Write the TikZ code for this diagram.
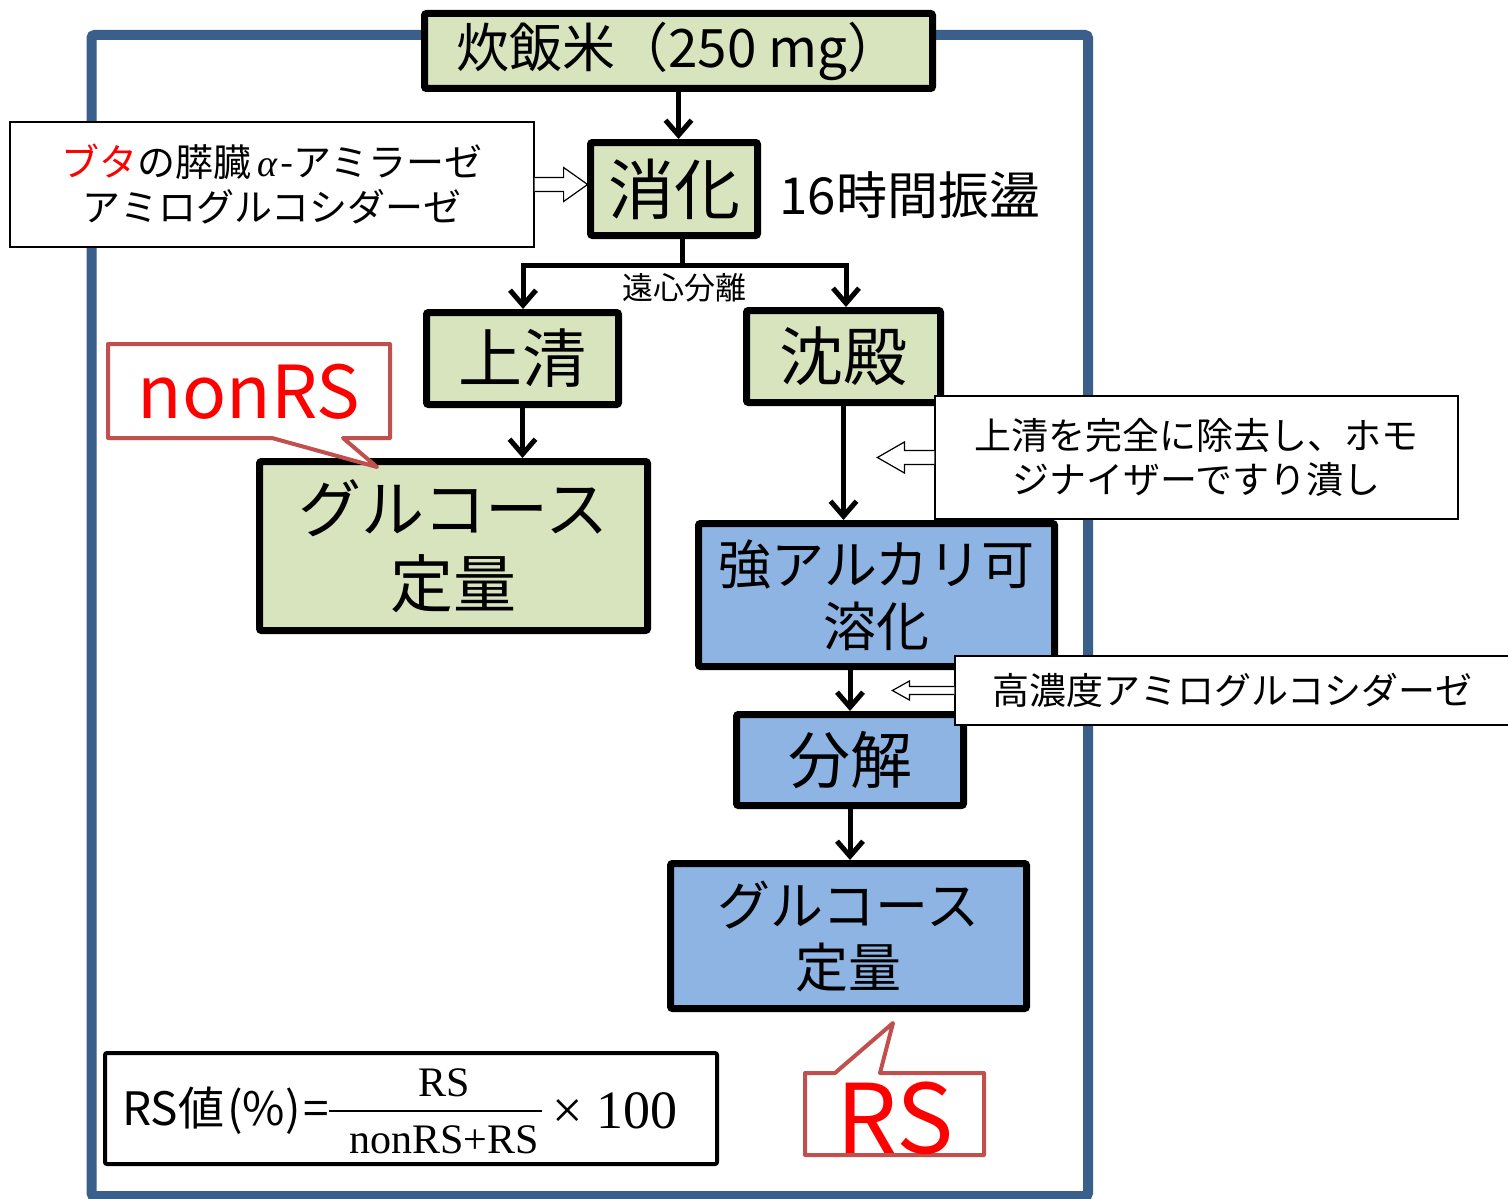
\documentclass[tikz,border=0pt]{standalone}
\usepackage{fontspec}
\setmainfont{Noto Sans CJK JP}
\newfontfamily\serifnum{Liberation Serif}
\usetikzlibrary{arrows.meta}
\definecolor{boxgreen}{HTML}{D7E4BD}
\definecolor{boxblue}{HTML}{8EB4E3}
\definecolor{framec}{HTML}{3A5F8B}
\definecolor{callc}{HTML}{C0504D}
\newcommand{\fs}[1]{\fontsize{#1}{#1}\selectfont}
\tikzset{
  flowbox/.style={draw=black, line width=7pt, rounded corners=2pt, inner sep=0pt, align=center},
  gbox/.style={flowbox, fill=boxgreen},
  bbox/.style={flowbox, fill=boxblue},
  notebox/.style={draw=black, line width=1.2pt, fill=white, inner sep=0pt, align=center},
  arr/.style={line width=5pt, -{Straight Barb[length=15pt,width=26pt]}},
  hollow/.style={draw=black, line width=1.2pt, fill=white},
  callout/.style={draw=callc, line width=4pt, fill=white, line join=round},
}
\begin{document}
\begin{tikzpicture}[x=1pt,y=1pt]
\useasboundingbox (0,0) rectangle (1508,-1199);
\fill[white] (0,0) rectangle (1508,-1199);
\draw[framec, line width=10pt, rounded corners=3pt] (91.5,-35) rectangle (1088,-1196);

% main flow boxes
\node[gbox, minimum width=508pt, minimum height=75pt, font=\fs{53}] (rice) at (678.5,-51) {炊飯米（250 mg）};
\node[gbox, minimum width=167pt, minimum height=93pt, font=\fs{66}] (dig) at (674,-189) {消化};
\node[anchor=west, font=\fs{51}] (hrs) at (776,-195) {16時間振盪};
\node[gbox, minimum width=192pt, minimum height=92pt, font=\fs{64}] (sup) at (522.5,-358.5) {上清};
\node[gbox, minimum width=194pt, minimum height=92pt, font=\fs{64}] (ppt) at (843.5,-356.5) {沈殿};
\node[gbox, minimum width=388pt, minimum height=169pt, font=\fontsize{63}{75}\selectfont] (glcL) at (453.5,-546) {グルコース\\定量};
\node[bbox, minimum width=356pt, minimum height=143pt, font=\fontsize{53}{62}\selectfont] (alk) at (876.5,-595) {強アルカリ可\\溶化};
\node[bbox, minimum width=227pt, minimum height=91pt, font=\fs{62}] (dec) at (850,-760) {分解};
\node[bbox, minimum width=356pt, minimum height=145pt, font=\fontsize{53}{62}\selectfont] (glcR) at (848.5,-936) {グルコース\\定量};

% notes
\node[notebox, minimum width=524pt, minimum height=125pt, font=\fontsize{38}{45}\selectfont] (nL) at (272,-184.5) {\textcolor{red}{ブタ}の膵臓\hspace{6pt}{\serifnum\itshape α}\hspace{3pt}-アミラーゼ\\アミログルコシダーゼ};
\node[notebox, minimum width=523pt, minimum height=123pt, font=\fontsize{37}{44}\selectfont] (n1) at (1196.5,-457.5) {上清を完全に除去し、ホモ\\ジナイザーですり潰し};
\node[notebox, minimum width=555pt, minimum height=69pt, font=\fs{37}] (n2) at (1232.5,-690.5) {高濃度アミログルコシダーゼ};

% connectors
\draw[arr] (rice.south) -- (rice.south |- dig.north);
\coordinate (jn) at (682,-265);
\coordinate (jl) at (523,-265);
\coordinate (jr) at (846,-265);
\draw[line width=5pt] (dig.south -| jn) -- (jn);
\draw[arr] (jn) -| (jl |- sup.north);
\draw[arr] (jn) -| (jr |- ppt.north);
\node[font=\fs{31}] (cent) at (684,-288) {遠心分離};
\draw[arr] (sup.south) -- (sup.south |- glcL.north);
\draw[arr] (ppt.south) -- (ppt.south |- alk.north);
\draw[arr] (dec.north |- alk.south) -- (dec.north);
\draw[arr] (dec.south) -- (dec.south |- glcR.north);

% hollow arrows
\draw[hollow] ([yshift=7pt]nL.east) -- ++(29,0) -- ++(0,10) -- ++(24,-17) -- ++(-24,-17) -- ++(0,10) -- ++(-29,0);
\draw[hollow] ([yshift=7pt]n1.west) -- ++(-30,0) -- ++(0,8.5) -- ++(-27,-15.5) -- ++(27,-15.5) -- ++(0,8.5) -- ++(30,0);
\draw[hollow] ([yshift=4pt]n2.west) -- ++(-45,0) -- ++(0,5.5) -- ++(-17,-9.5) -- ++(17,-9.5) -- ++(0,5.5) -- ++(45,0);

% callouts
\draw[callout] (108,-344) -- (390,-344) -- (390,-438) -- (343,-438) -- (377,-467) -- (272,-438) -- (108,-438) -- cycle;
\node[red, font=\fs{73}] (nonrs) at (249,-392) {nonRS};
\draw[callout] (805,-1073) -- (835,-1073) -- (893,-1023) -- (880,-1073) -- (984,-1073) -- (984,-1155) -- (805,-1155) -- cycle;
\node[red, font=\fs{96}] (rs) at (895,-1118) {RS};

% formula
\node[draw, line width=4pt, rounded corners=2pt, minimum width=612pt, minimum height=111pt] (fbox) at (411,-1108.5) {};
\node[anchor=west, inner sep=0pt, font=\fs{46}] (rsv) at (122,-1111) {RS値\hspace{3pt}(\%)\hspace{3pt}=};
\node[font=\serifnum\fs{42}] (num) at (444,-1083) {RS};
\node[font=\serifnum\fs{42}] (den) at (444,-1140) {nonRS+RS};
\draw[line width=1.5pt] (rsv.east) -- (rsv.east -| 542,0);
\node[anchor=west, font=\serifnum\fs{54}] (x100) at (549,-1111) {× 100};
\end{tikzpicture}
\end{document}
